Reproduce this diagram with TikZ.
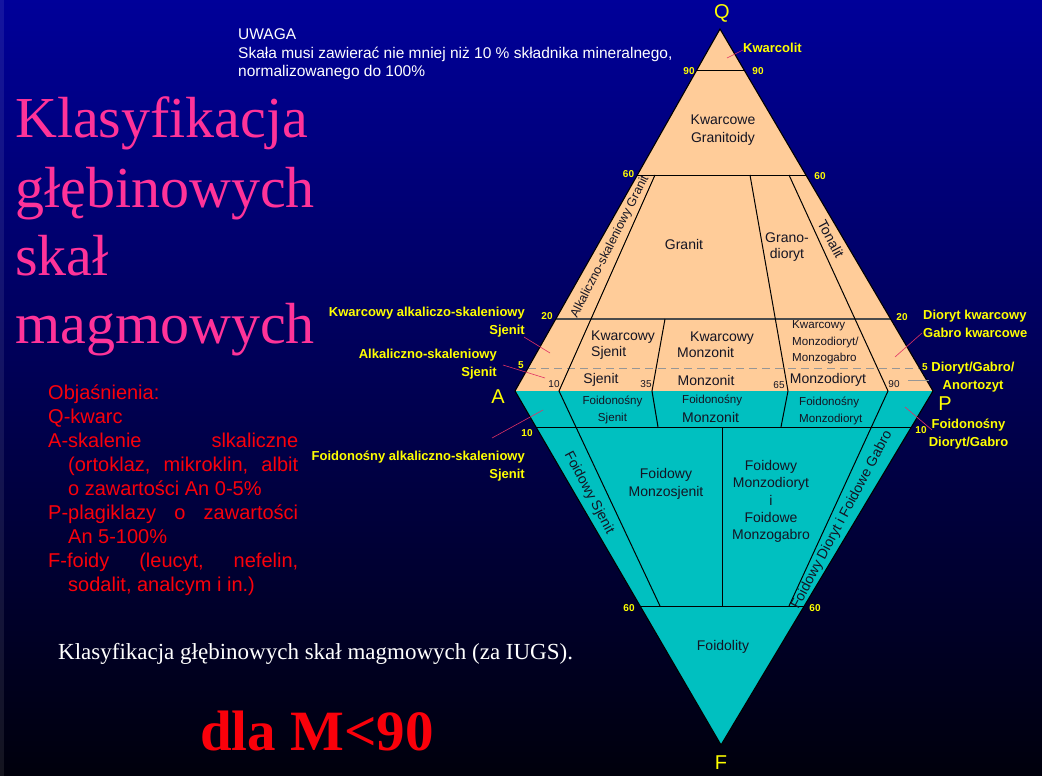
\documentclass[tikz,border=0pt]{standalone}
\usepackage{fontspec}
\setmainfont{Liberation Serif}
\setsansfont{Liberation Sans}
\newfontfamily\arialf{Liberation Sans}
\newfontfamily\timesf{Liberation Serif}
\usetikzlibrary{calc}
\definecolor{peach}{RGB}{255,204,153}
\definecolor{tealx}{RGB}{0,192,192}
\definecolor{ylw}{RGB}{255,255,0}
\definecolor{pnk}{RGB}{255,51,153}
\definecolor{ptr}{RGB}{225,50,100}
\definecolor{ink}{RGB}{20,20,35}
\definecolor{redx}{RGB}{250,0,10}
\definecolor{bgtop}{RGB}{0,0,153}
\definecolor{bgmid}{RGB}{0,0,118}
\definecolor{bgbot}{RGB}{0,0,12}
\definecolor{grayln}{RGB}{75,75,75}
\definecolor{dashgray}{RGB}{150,150,150}
\begin{document}
\begin{tikzpicture}[x=1pt,y=-1pt,
  edge/.style={line width=1.1pt,black,line join=miter},
  div/.style={line width=1pt,black},
  ptrline/.style={ptr,line width=0.6pt},
  lbl/.style={font=\arialf\fontsize{14}{16}\selectfont,text=ink,align=center,inner sep=0pt},
  lbls/.style={font=\arialf\fontsize{11.6}{16.5}\selectfont,text=ink,align=left,inner sep=0pt},
  ylab/.style={font=\arialf\bfseries\fontsize{13}{18}\selectfont,text=ylw,inner sep=0pt},
  numy/.style={font=\arialf\bfseries\fontsize{10}{11}\selectfont,text=ylw,inner sep=0pt},
  numk/.style={font=\arialf\fontsize{10}{11}\selectfont,text=ink,inner sep=0pt},
  corner/.style={font=\arialf\fontsize{20}{22}\selectfont,text=ylw,inner sep=0pt},
  expl/.style={font=\arialf\fontsize{20}{24}\selectfont,text=redx,inner sep=0pt,anchor=base west},
  ttl/.style={font=\timesf\fontsize{58}{69}\selectfont,text=pnk,inner sep=0pt,anchor=base west}]
\useasboundingbox (0,0) rectangle (1042,776);
% background
\shade[top color=bgtop,middle color=bgmid,bottom color=bgbot] (0,0) rectangle (1042,776);
\fill[white,opacity=0.08] (0,0) rectangle (4,776);

% geometry
\coordinate (Q) at (720,29);
\coordinate (A) at (515,391);
\coordinate (P) at (933,391);
\coordinate (F) at (721,745);
\coordinate (q90l) at (696.2,71);  \coordinate (q90r) at (744.7,71);
\coordinate (q60l) at (637.3,175); \coordinate (q60r) at (805.9,175);
\coordinate (q20l) at (555.8,319); \coordinate (q20r) at (890.6,319);
\coordinate (q5l) at (528,368);    \coordinate (q5r) at (919.5,368);
\coordinate (f10l) at (536,427);   \coordinate (f10r) at (911.4,427);
\coordinate (f60l) at (640.1,606); \coordinate (f60r) at (804.2,606);
\coordinate (a10t) at (655,175);   \coordinate (a10b) at (559,391);
\coordinate (a35t) at (665,319);   \coordinate (a35b) at (652,391);
\coordinate (a65t) at (750,175);   \coordinate (a65b) at (788,391);
\coordinate (a90t) at (789,175);   \coordinate (a90b) at (888,391);
\coordinate (f10d) at (660,606);   \coordinate (f35d) at (658,427);
\coordinate (f65d) at (781,427);   \coordinate (f50t) at (722,427);
\coordinate (f50d) at (722,606);   \coordinate (f90d) at (789,606);

\fill[peach] (Q)--(A)--(P)--cycle;
\fill[tealx] (A)--(P)--(F)--cycle;

% horizontal lines
\draw[div] (q90l)--(q90r);
\draw[div] (q60l)--(q60r);
\draw[grayln,line width=1.4pt] (q20l)--(q20r);
\draw[dashgray,line width=0.7pt,dash pattern=on 8pt off 5pt] (q5l)--(q5r);
\draw[div] (f10l)--(f10r);
\draw[div] (f60l)--(f60r);
% ratio lines
\draw[div] (a10t)--(a10b)--(f10d);
\draw[div] (a35t)--(a35b)--(f35d);
\draw[div] (a65t)--(a65b)--(f65d);
\draw[div] (a90t)--(a90b)--(f90d);
\draw[div] (f50t)--(f50d);
% outline
\draw[edge] (A)--(Q)--(P);
\draw[edge] (A)--(F)--(P);

% corner letters
\node[corner] (lQ) at (722,13) {Q};
\node[corner] (lA) at (498,397) {A};
\node[corner] (lP) at (945,404) {P};
\node[corner] (lF) at (721,763) {F};

% numbers
\node[numy] (n90l) at (689,71) {90};
\node[numy] (n90r) at (758,71) {90};
\node[numy] (n60l) at (628.5,174) {60};
\node[numy] (n60r) at (820,176) {60};
\node[numy] (n20l) at (547,316) {20};
\node[numy] (n20r) at (902,317) {20};
\node[numy] (n5l) at (521,365) {5};
\node[numy] (n5r) at (925,367) {5};
\node[numy] (n10l) at (527,433) {10};
\node[numy] (n10r) at (921,430) {10};
\node[numy] (n60dl) at (629,608) {60};
\node[numy] (n60dr) at (815,608) {60};
\node[numk] (k10) at (554,384) {10};
\node[numk] (k35) at (646,384) {35};
\node[numk] (k65) at (779,385) {65};
\node[numk] (k90) at (894,384) {90};

% interior labels
\node[lbl] (kg) at (723,130) {Kwarcowe\\[2pt]Granitoidy};
\node[lbl] (gr) at (684,244) {Granit};
\node[lbl] (gd) at (787,247) {Grano-\\dioryt};
\node[lbl,rotate=63] (ag) at (610,247) {\fontsize{12.4}{14}\selectfont Alkaliczno-skaleniowy Granit};
\node[lbl,rotate=-62] (ton) at (831,239) {Tonalit};
\node[lbl,anchor=west,align=left] (ks) at (591,345) {Kwarcowy\\Sjenit};
\node[lbl,anchor=west,align=left] (km) at (677,345) {\hspace*{13pt}Kwarcowy\\Monzonit};
\node[lbls,anchor=west] (kmd) at (792,342.5) {Kwarcowy\\Monzodioryt/\\Monzogabro};
\node[lbl] (sj) at (601,380) {Sjenit};
\node[lbl] (mz) at (706,380) {Monzonit};
\node[lbl] (md) at (828,380) {Monzodioryt};
\node[lbls,align=center] (fs) at (612.5,410) {Foidonośny\\Sjenit};
\node[lbls,anchor=west] (fm1) at (682,400) {Foidonośny};
\node[lbl,anchor=west] (fm2) at (682,417) {Monzonit};
\node[lbls,anchor=west] (fmd) at (799,411) {Foidonośny\\Monzodioryt};
\node[lbl,rotate=-62] (fsj) at (589,493) {Foidowy Sjenit};
\node[lbl] (fmz) at (666,484) {Foidowy\\[2pt]Monzosjenit};
\node[lbl] (fmdg) at (771,501.5) {Foidowy\\[1.2pt]Monzodioryt\\[1.2pt]i\\[1.2pt]Foidowe\\[1.2pt]Monzogabro};
\node[lbl,rotate=62] (fdg) at (842,520) {Foidowy Dioryt i Foidowe Gabro};
\node[lbl] (fol) at (723,647) {Foidolity};

% yellow side labels
\node[ylab,anchor=west] (kwl) at (743,48) {Kwarcolit};
\node[ylab,anchor=east,align=right] (kas) at (525,322) {Kwarcowy alkaliczo-skaleniowy\\Sjenit};
\node[ylab,anchor=east,align=right] (as) at (497,364) {Alkaliczno-skaleniowy\\Sjenit};
\node[ylab,anchor=east,align=right] (fas) at (525,466) {Foidonośny alkaliczno-skaleniowy\\Sjenit};
\node[ylab,anchor=west,align=left] (dk) at (923,323.5) {Dioryt kwarcowy\\Gabro kwarcowe};
\node[ylab,align=center] (dga) at (973,377.5) {Dioryt/Gabro/\\Anortozyt};
\node[ylab,align=center] (fdgl) at (968.5,434.5) {Foidonośny\\Dioryt/Gabro};

% pointer lines
\coordinate (p1a) at (727,58);  \coordinate (p1b) at (743,50);
\coordinate (p2a) at (524,337); \coordinate (p2b) at (550,353);
\coordinate (p3a) at (503,365); \coordinate (p3b) at (545,378);
\coordinate (p4a) at (492,438); \coordinate (p4b) at (543,410);
\coordinate (p5a) at (922,333); \coordinate (p5b) at (895,357);
\coordinate (p6a) at (908,380); \coordinate (p6b) at (929,380);
\coordinate (p7a) at (905,407); \coordinate (p7b) at (932,430);
\draw[ptrline] (p1a)--(p1b);
\draw[ptrline] (p2a)--(p2b);
\draw[ptrline] (p3a)--(p3b);
\draw[ptrline] (p4a)--(p4b);
\draw[ptrline] (p5a)--(p5b);
\draw[dashgray,line width=0.7pt] (p6a)--(p6b);
\draw[ptrline] (p7a)--(p7b);

% top note
\node[font=\arialf\fontsize{15.5}{18.5}\selectfont,text=white,align=left,anchor=west,inner sep=0pt] (uw) at (238,54.5)
  {UWAGA\\Skała musi zawierać nie mniej niż 10 \% składnika mineralnego,\\normalizowanego do 100\%};

% title
\node[ttl] (t1) at (15,137) {Klasyfikacja};
\node[ttl] (t2) at (15,207) {głębinowych};
\node[ttl] (t3) at (15,275) {skał};
\node[ttl] (t4) at (15,343) {magmowych};

% explanation
\node[expl] (e1) at (48,399) {Objaśnienia:};
\node[expl] (e2) at (48,423) {Q-kwarc};
\node[expl] (e3) at (48,447) {\hbox to 250pt{A-skalenie\hfill slkaliczne}};
\node[expl] (e4) at (68,471) {\hbox to 230pt{(ortoklaz,\hfill mikroklin,\hfill albit}};
\node[expl] (e5) at (68,495) {o zawartości An 0-5\%};
\node[expl] (e6) at (48,519) {\hbox to 250pt{P-plagiklazy\hfill o\hfill zawartości}};
\node[expl] (e7) at (68,543) {An 5-100\%};
\node[expl] (e8) at (48,567) {\hbox to 250pt{F-foidy\hfill (leucyt,\hfill nefelin,}};
\node[expl] (e9) at (68,591) {sodalit, analcym i in.)};

% footer
\node[font=\timesf\fontsize{23}{26}\selectfont,text=white,anchor=base west,inner sep=0pt] (foot) at (58,659)
  {Klasyfikacja głębinowych skał magmowych (za IUGS).};
\node[font=\timesf\bfseries\fontsize{57}{60}\selectfont,text=redx,anchor=base west,inner sep=0pt] (dla) at (200,750)
  {dla M<90};
\end{tikzpicture}
\end{document}
